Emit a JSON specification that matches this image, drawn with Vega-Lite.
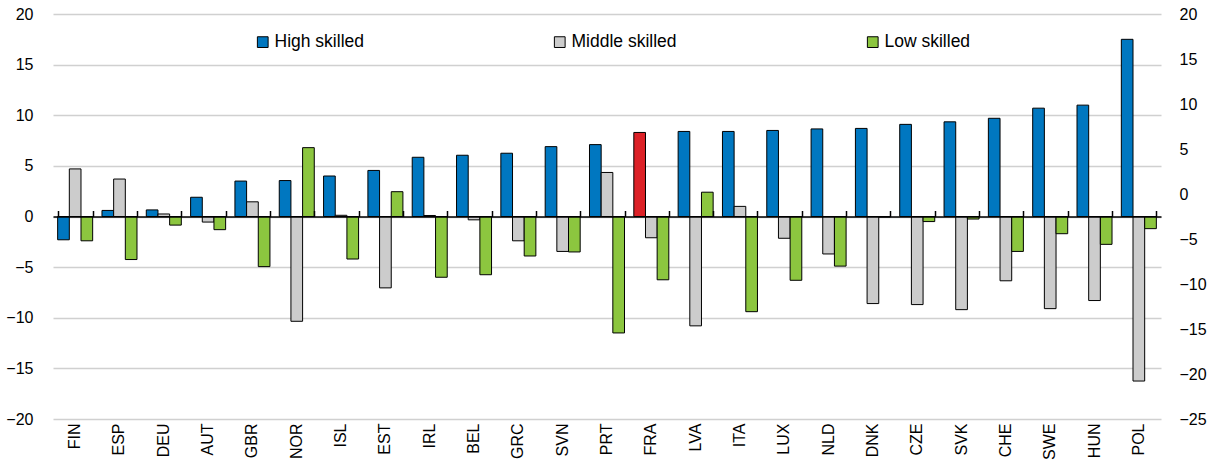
{
  "$schema": "https://vega.github.io/schema/vega-lite/v6.json",
  "width": 1108,
  "height": 405,
  "autosize": {"type": "none"},
  "padding": {"left": 53, "top": 14, "right": 49, "bottom": 42},
  "config": {
    "font": "Liberation Sans",
    "view": {"stroke": null},
    "axis": {"labelFont": "Liberation Sans", "labelColor": "#000000"},
    "legend": {"labelFont": "Liberation Sans", "labelColor": "#000000"}
  },
  "datasets": {
    "scores": [
      {"country": "FIN", "High skilled": -2.3, "Middle skilled": 4.7, "Low skilled": -2.4},
      {"country": "ESP", "High skilled": 0.6, "Middle skilled": 3.7, "Low skilled": -4.25},
      {"country": "DEU", "High skilled": 0.65, "Middle skilled": 0.25, "Low skilled": -0.85},
      {"country": "AUT", "High skilled": 1.9, "Middle skilled": -0.55, "Low skilled": -1.3},
      {"country": "GBR", "High skilled": 3.5, "Middle skilled": 1.45, "Low skilled": -4.95},
      {"country": "NOR", "High skilled": 3.55, "Middle skilled": -10.35, "Low skilled": 6.8},
      {"country": "ISL", "High skilled": 4.0, "Middle skilled": 0.12, "Low skilled": -4.2},
      {"country": "EST", "High skilled": 4.55, "Middle skilled": -7.05, "Low skilled": 2.45},
      {"country": "IRL", "High skilled": 5.85, "Middle skilled": 0.1, "Low skilled": -6.0},
      {"country": "BEL", "High skilled": 6.05, "Middle skilled": -0.33, "Low skilled": -5.75},
      {"country": "GRC", "High skilled": 6.25, "Middle skilled": -2.4, "Low skilled": -3.9},
      {"country": "SVN", "High skilled": 6.9, "Middle skilled": -3.45, "Low skilled": -3.5},
      {"country": "PRT", "High skilled": 7.1, "Middle skilled": 4.35, "Low skilled": -11.5},
      {"country": "FRA", "High skilled": 8.3, "Middle skilled": -2.1, "Low skilled": -6.25},
      {"country": "LVA", "High skilled": 8.4, "Middle skilled": -10.8, "Low skilled": 2.4},
      {"country": "ITA", "High skilled": 8.4, "Middle skilled": 1.0, "Low skilled": -9.4},
      {"country": "LUX", "High skilled": 8.5, "Middle skilled": -2.15, "Low skilled": -6.3},
      {"country": "NLD", "High skilled": 8.65, "Middle skilled": -3.7, "Low skilled": -4.9},
      {"country": "DNK", "High skilled": 8.7, "Middle skilled": -8.6, "Low skilled": -0.05},
      {"country": "CZE", "High skilled": 9.1, "Middle skilled": -8.7, "Low skilled": -0.5},
      {"country": "SVK", "High skilled": 9.35, "Middle skilled": -9.2, "Low skilled": -0.25},
      {"country": "CHE", "High skilled": 9.7, "Middle skilled": -6.35, "Low skilled": -3.45},
      {"country": "SWE", "High skilled": 10.7, "Middle skilled": -9.1, "Low skilled": -1.7},
      {"country": "HUN", "High skilled": 11.0, "Middle skilled": -8.3, "Low skilled": -2.75},
      {"country": "POL", "High skilled": 17.5, "Middle skilled": -16.25, "Low skilled": -1.2}
    ],
    "rightAxis": [{"v": -25}, {"v": 20}]
  },
  "layer": [
    {
      "data": {"name": "scores"},
      "transform": [{"fold": ["High skilled", "Middle skilled", "Low skilled"], "as": ["skill", "value"]}],
      "mark": {"type": "bar", "stroke": "#000000", "strokeWidth": 1},
      "encoding": {
        "x": {
          "field": "country", "type": "nominal", "sort": null,
          "scale": {"paddingInner": 0.21, "paddingOuter": 0.105},
          "axis": {
            "orient": "bottom", "offset": -202.5, "labels": false, "title": null,
            "domain": true, "domainColor": "#000000", "domainWidth": 1.5,
            "ticks": true, "tickBand": "extent", "tickSize": -6, "tickColor": "#000000", "tickWidth": 1.5,
            "grid": false, "zindex": 1
          }
        },
        "xOffset": {
          "field": "skill", "type": "nominal",
          "sort": ["High skilled", "Middle skilled", "Low skilled"],
          "scale": {"paddingInner": 0, "paddingOuter": 0}
        },
        "y": {
          "field": "value", "type": "quantitative",
          "scale": {"domain": [-20, 20], "nice": false, "zero": false},
          "axis": {
            "orient": "left", "values": [-20, -15, -10, -5, 0, 5, 10, 15, 20], "title": null,
            "grid": true, "gridColor": "#D0D0D0", "gridWidth": 1.5,
            "domain": false, "ticks": false, "labelFontSize": 16, "labelPadding": 20
          }
        },
        "color": {
          "condition": {"test": "datum.country === 'FRA' && datum.skill === 'High skilled'", "value": "#DC2127"},
          "field": "skill", "type": "nominal",
          "scale": {
            "domain": ["High skilled", "Middle skilled", "Low skilled"],
            "range": ["#0077C0", "#CCCCCC", "#8CC63F"]
          },
          "legend": {
            "title": null, "orient": "none", "legendX": 201, "legendY": 19,
            "direction": "horizontal", "columns": 3, "columnPadding": 187,
            "symbolType": "square", "symbolSize": 115, "symbolStrokeColor": "#000000", "symbolStrokeWidth": 1,
            "labelFontSize": 17.5, "labelOffset": 3
          }
        }
      }
    },
    {
      "data": {"name": "scores"},
      "mark": {"type": "tick", "opacity": 0},
      "encoding": {
        "x": {
          "field": "country", "type": "nominal", "sort": null,
          "axis": {
            "orient": "bottom", "title": null, "labelAngle": -90, "labelFontSize": 16,
            "labelPadding": 4, "ticks": false, "domain": false, "grid": false
          }
        }
      }
    },
    {
      "data": {"name": "rightAxis"},
      "mark": {"type": "point", "opacity": 0},
      "encoding": {
        "y": {
          "field": "v", "type": "quantitative",
          "scale": {"domain": [-25, 20], "nice": false, "zero": false},
          "axis": {
            "orient": "right", "values": [-25, -20, -15, -10, -5, 0, 5, 10, 15, 20], "title": null,
            "grid": false, "domain": false, "ticks": false, "labelFontSize": 16, "labelPadding": 18
          }
        }
      }
    }
  ],
  "resolve": {"scale": {"y": "independent"}, "axis": {"x": "independent", "y": "independent"}}
}
